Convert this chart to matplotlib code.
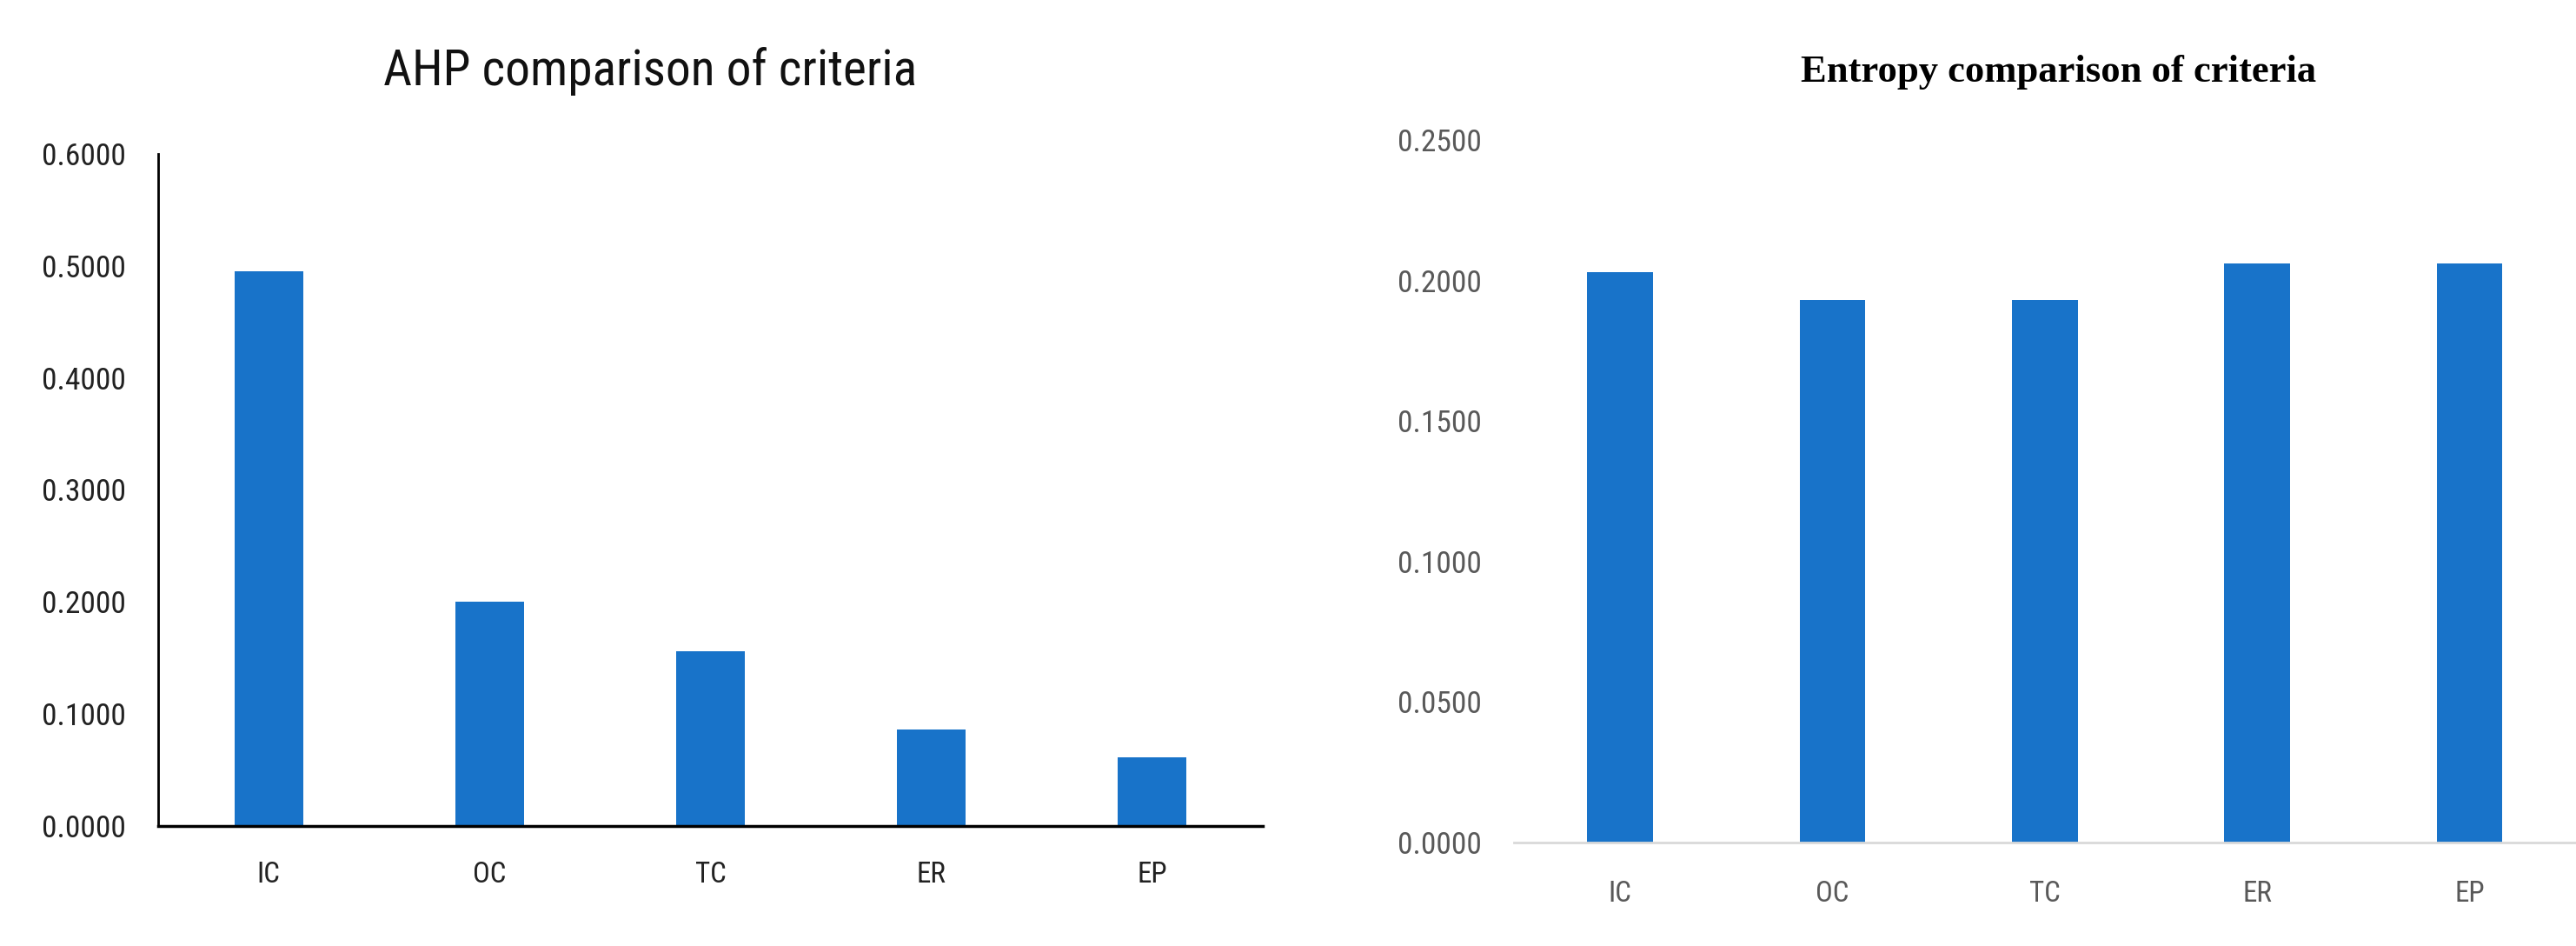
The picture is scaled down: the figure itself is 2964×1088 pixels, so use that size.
import matplotlib
matplotlib.use("Agg")
import matplotlib.pyplot as plt
from matplotlib import font_manager

categories = ["IC", "OC", "TC", "ER", "EP"]
ahp_values = [0.495, 0.200, 0.156, 0.086, 0.061]
entropy_values = [0.203, 0.193, 0.193, 0.206, 0.206]
ahp_ticks = [0.0, 0.1, 0.2, 0.3, 0.4, 0.5, 0.6]
entropy_ticks = [0.0, 0.05, 0.10, 0.15, 0.20, 0.25]

W, H = 2964, 1088
DPI = 100
fig = plt.figure(figsize=(W / DPI, H / DPI), dpi=DPI)
renderer = fig.canvas.get_renderer()
bar_color = "#1873c9"

# choose a narrow sans font if one is installed
fonts = font_manager.fontManager.ttflist
names = {f.name for f in fonts}
sans_family = "Open Sans"
sans_stretch = "normal"
for nm in ["Liberation Sans Narrow", "Roboto Condensed", "Open Sans Condensed", "Noto Sans Condensed"]:
    if nm in names:
        sans_family = nm
        break
else:
    for fam in ["Open Sans", "Noto Sans", "Roboto", "DejaVu Sans", "Liberation Sans"]:
        found = [f for f in fonts if f.name == fam and str(f.stretch) in ("condensed", "semi-condensed")
                 and f.style == "normal" and f.weight in (400, "normal", "regular")]
        if found:
            sans_family = fam
            sans_stretch = str(found[0].stretch)
            break
sans = [sans_family, "DejaVu Sans"]
serif = ["Liberation Serif", "DejaVu Serif"]


def fit_size(s, target_px, family, weight="normal", stretch="normal"):
    t = fig.text(0, 0, s, fontsize=20, fontfamily=family, fontweight=weight, fontstretch=stretch)
    w = t.get_window_extent(renderer).width
    t.remove()
    return 20 * target_px / w


tick_size = fit_size("0.6000", 97, sans, stretch=sans_stretch)
cat_size = fit_size("IC", 27, sans, stretch=sans_stretch)
title1_size = fit_size("AHP comparison of criteria", 612, sans, stretch=sans_stretch)
title2_size = fit_size("Entropy comparison of criteria", 592, serif, "bold")


def px(x0, y0, x1, y1):
    return [x0 / W, 1 - y1 / H, (x1 - x0) / W, (y1 - y0) / H]


def style_labels(ax, size_y, size_x, color):
    for lab in ax.get_yticklabels():
        lab.set_fontfamily(sans)
        lab.set_fontstretch(sans_stretch)
        lab.set_fontsize(size_y)
        lab.set_color(color)
    for lab in ax.get_xticklabels():
        lab.set_fontfamily(sans)
        lab.set_fontstretch(sans_stretch)
        lab.set_fontsize(size_x)
        lab.set_color(color)

# Left: AHP
ax1 = fig.add_axes(px(182, 177, 1453, 950))
ax1.bar(range(len(categories)), ahp_values, width=0.31, color=bar_color)
ax1.set_xlim(-0.5, 4.5)
ax1.set_ylim(0, 0.6)
ax1.set_yticks(ahp_ticks)
ax1.set_yticklabels([f"{v:.4f}" for v in ahp_ticks])
ax1.set_xticks(range(len(categories)))
ax1.set_xticklabels(categories)
style_labels(ax1, tick_size, cat_size, "#222222")
ax1.tick_params(axis="both", length=0)
ax1.tick_params(axis="y", pad=27)
ax1.tick_params(axis="x", pad=29)
for s in ["top", "right"]:
    ax1.spines[s].set_visible(False)
ax1.spines["left"].set_linewidth(2)
ax1.spines["bottom"].set_linewidth(2.5)
fig.text(748 / W, 1 - 82 / H, "AHP comparison of criteria", ha="center", va="center",
         fontfamily=sans, fontstretch=sans_stretch, fontsize=title1_size, color="#111111")

# Right: Entropy
ax2 = fig.add_axes(px(1742, 161, 2963, 969))
ax2.bar(range(len(categories)), entropy_values, width=0.31, color=bar_color)
ax2.set_xlim(-0.5, 4.5 - 0.003)
ax2.set_ylim(0, 0.25)
ax2.set_yticks(entropy_ticks)
ax2.set_yticklabels([f"{v:.4f}" for v in entropy_ticks])
ax2.set_xticks(range(len(categories)))
ax2.set_xticklabels(categories)
style_labels(ax2, tick_size, cat_size, "#595959")
ax2.tick_params(axis="both", length=0)
ax2.tick_params(axis="y", pad=27)
ax2.tick_params(axis="x", pad=31)
for s in ["top", "right", "left"]:
    ax2.spines[s].set_visible(False)
ax2.spines["bottom"].set_color("#d9d9d9")
ax2.spines["bottom"].set_linewidth(2)
fig.text(2369 / W, 1 - 83 / H, "Entropy comparison of criteria", ha="center", va="center",
         fontfamily=serif, fontweight="bold", fontsize=title2_size, color="#000000")

fig.savefig("out.png", dpi=DPI)
